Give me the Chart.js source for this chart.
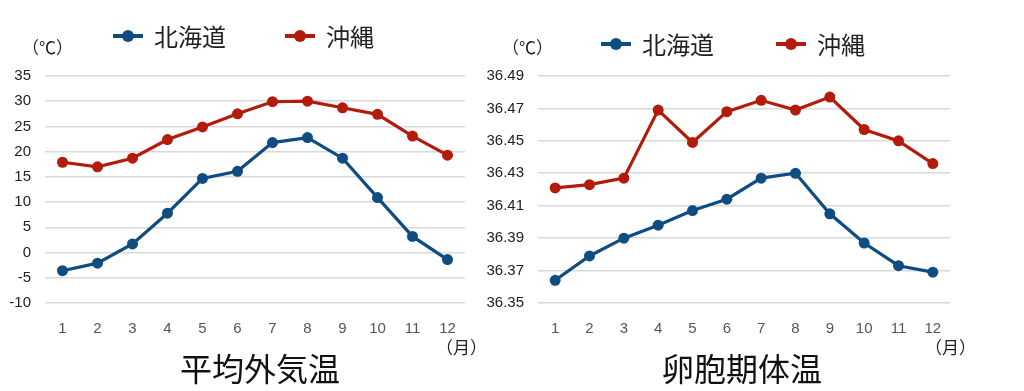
<!DOCTYPE html>
<html lang="ja">
<head>
<meta charset="UTF-8">
<title>平均外気温と卵胞期体温</title>
<script src="https://cdn.jsdelivr.net/npm/chart.js"></script>
<style>
  body { margin: 0; background: #fff; font-family: "Noto Sans CJK JP", "Liberation Sans", sans-serif; }
  #wrap { position: relative; width: 1024px; height: 391px; overflow: hidden; }
  canvas { position: absolute; top: 0; }
  .txt { position: absolute; color: #222; white-space: nowrap; line-height: 1; }
  .unit { font-size: 17px; }
  .title { font-size: 32px; color: #111; }
  .leg { position: absolute; font-size: 24px; color: #222; line-height: 1; white-space: nowrap; }
  .leg i { position: absolute; left: 0; top: 50%; width: 30px; height: 4px; margin-top: -2px; }
  .leg i::after { content: ""; position: absolute; left: 9px; top: -4px; width: 12px; height: 12px; border-radius: 50%; background: inherit; }
  .leg span { margin-left: 41px; }
</style>
</head>
<body>
<div id="wrap">
  <canvas id="airChart" width="480" height="345" style="left:0"></canvas>
  <canvas id="bodyChart" width="500" height="345" style="left:470px"></canvas>

  <div class="leg" style="left:113px; top:24px"><i style="background:#0f4c81"></i><span>北海道</span></div>
  <div class="leg" style="left:285px; top:24px"><i style="background:#b31b0b"></i><span>沖縄</span></div>
  <div class="leg" style="left:601px; top:32px"><i style="background:#0f4c81"></i><span>北海道</span></div>
  <div class="leg" style="left:776px; top:32px"><i style="background:#b31b0b"></i><span>沖縄</span></div>

  <div class="txt unit" style="left:22px; top:38px">（℃）</div>
  <div class="txt unit" style="left:502px; top:38px">（℃）</div>
  <div class="txt unit" style="left:436px; top:338px">（月）</div>
  <div class="txt unit" style="left:925px; top:338px">（月）</div>
  <div class="txt title" style="left:180px; top:351px">平均外気温</div>
  <div class="txt title" style="left:662px; top:351px">卵胞期体温</div>
</div>
<script>
  const months = ['1', '2', '3', '4', '5', '6', '7', '8', '9', '10', '11', '12'];
  const seriesNames = ['北海道', '沖縄'];

  // 平均外気温 (℃)
  const airHokkaido = [-3.6, -2.1, 1.7, 7.8, 14.7, 16.1, 21.8, 22.8, 18.7, 10.9, 3.2, -1.4];
  const airOkinawa = [17.9, 17.0, 18.7, 22.4, 24.9, 27.5, 29.9, 30.0, 28.7, 27.4, 23.1, 19.3];
  const airTicks = [-10, -5, 0, 5, 10, 15, 20, 25, 30, 35];

  // 卵胞期体温 (℃)
  const bodyHokkaido = [36.364, 36.379, 36.390, 36.398, 36.407, 36.414, 36.427, 36.430, 36.405, 36.387, 36.373, 36.369];
  const bodyOkinawa = [36.421, 36.423, 36.427, 36.469, 36.449, 36.468, 36.475, 36.469, 36.477, 36.457, 36.450, 36.436];
  const bodyTicks = [36.35, 36.37, 36.39, 36.41, 36.43, 36.45, 36.47, 36.49];

  const blue = '#0f4c81';
  const red = '#b31b0b';

  function lineSet(label, data, color) {
    return {
      label: label,
      data: data,
      borderColor: color,
      backgroundColor: color,
      borderWidth: 3.2,
      pointRadius: 5.5,
      pointHoverRadius: 5.5,
      pointBorderWidth: 0,
      pointBackgroundColor: color,
      tension: 0
    };
  }

  function makeChart(id, a, b, ticks, yWidth, pad, digits) {
    return new Chart(document.getElementById(id), {
      type: 'line',
      data: {
        labels: months,
        datasets: [lineSet(seriesNames[0], a, blue), lineSet(seriesNames[1], b, red)]
      },
      options: {
        responsive: false,
        animation: false,
        layout: { padding: pad },
        plugins: { legend: { display: false }, tooltip: { enabled: false } },
        scales: {
          x: {
            offset: true,
            grid: { display: false },
            border: { display: false },
            ticks: { color: '#555', font: { size: 15, family: 'Liberation Sans' }, padding: 9 },
            afterFit: axis => { axis.height = 42; }
          },
          y: {
            min: ticks[0],
            max: ticks[ticks.length - 1],
            afterBuildTicks: axis => { axis.ticks = ticks.map(v => ({ value: v })); },
            grid: { color: '#d9d9d9', lineWidth: 1.6, drawTicks: false },
            border: { display: false },
            ticks: {
              color: '#222',
              font: { size: 15, family: 'Liberation Sans' },
              padding: 14,
              callback: v => Number(v).toFixed(digits)
            },
            afterFit: axis => { axis.width = yWidth; }
          }
        }
      }
    });
  }

  makeChart('airChart', airHokkaido, airOkinawa, airTicks, 45, { top: 76, right: 15, left: 0, bottom: 0 }, 0);
  makeChart('bodyChart', bodyHokkaido, bodyOkinawa, bodyTicks, 68, { top: 76, right: 20, left: 0, bottom: 0 }, 2);
</script>
</body>
</html>
